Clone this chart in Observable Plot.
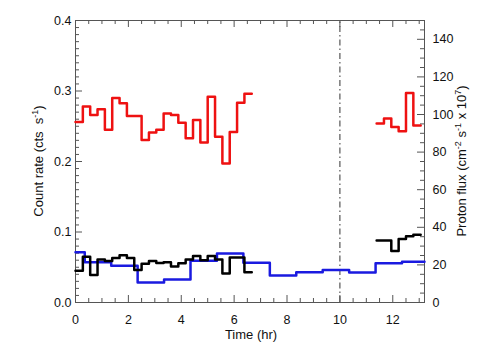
<!DOCTYPE html>
<html><head><meta charset="utf-8">
<script src="https://cdn.jsdelivr.net/npm/d3@7"></script>
<script src="https://cdn.jsdelivr.net/npm/@observablehq/plot@0.6"></script>
<style>
body{margin:0;background:#fff}
svg{font-family:"Liberation Sans",Arial,Helvetica,sans-serif}
</style>
</head><body><div id="chart"></div>
<script>
// ---- data ----
const binHours = 1000 / 3600;            // count-rate bins (1000 s)
const countRunStartBins = [0, 41];       // first bin index of each data run
const redRate = [
  [0.256, 0.278, 0.266, 0.274, 0.245, 0.290, 0.2825, 0.2645, 0.2645, 0.2305, 0.241, 0.245,
   0.268, 0.266, 0.255, 0.233, 0.259, 0.227, 0.292, 0.235, 0.197, 0.242, 0.2835, 0.296],
  [0.254, 0.261, 0.249, 0.243, 0.297, 0.251]
];
const blackRate = [
  [0.045, 0.065, 0.039, 0.061, 0.059, 0.063, 0.067, 0.063, 0.046, 0.055, 0.059, 0.056,
   0.057, 0.051, 0.0556, 0.061, 0.066, 0.060, 0.066, 0.061, 0.041, 0.064, 0.064, 0.043],
  [0.088, 0.088, 0.073, 0.090, 0.094, 0.096]
];
const protonStart = [0, 0.35, 1.35, 2.35, 3.35, 4.35, 5.35, 6.35, 7.35, 8.35, 9.35, 10.35, 11.35, 12.35];
const protonFlux  = [26.7, 21.4, 19.5, 10.7, 12.3, 22.2, 26.1, 21.1, 14.3, 16.1, 17.3, 15.9, 20.9, 21.7];
const protonEnd = 13.2;
const eventTime = [10];

const xMax = 13.2;
const leftMax = 0.4, rightMax = 150;
const xMajor = [0, 2, 4, 6, 8, 10, 12];
const xMinor = d3.range(0, 13.01, 0.5).filter(t => t % 2 !== 0);
const leftMajor = [0, 0.1, 0.2, 0.3, 0.4];
const leftMinor = d3.range(1, 40).filter(i => i % 10 !== 0).map(i => i / 100);
const rightMajor = [0, 20, 40, 60, 80, 100, 120, 140];
const rightMinor = d3.range(5, 150, 5).filter(v => v % 20 !== 0);

// ---- helpers ----
function stepPoints(startBins, runs) {
  const pts = [];
  runs.forEach((run, k) => {
    run.forEach((v, i) => pts.push({t: (startBins[k] + i) * binHours, v}));
    const end = (startBins[k] + run.length) * binHours;
    pts.push({t: end, v: run[run.length - 1]});
    pts.push({t: end, v: NaN});
  });
  return pts;
}
const toLeft = v => v * leftMax / rightMax;
const protonPts = protonStart.map((t, i) => ({t, v: toLeft(protonFlux[i])}));
protonPts.push({t: protonEnd, v: toLeft(protonFlux[protonFlux.length - 1])});

const W = 504, H = 360, mL = 75, mR = 80, mT = 20, mB = 58;
const pxX = xMax / (W - mL - mR), pxY = leftMax / (H - mT - mB);
const majLen = 7, minLen = 4;
const tickStroke = "#555";

const chart = Plot.plot({
  width: W, height: H,
  marginLeft: mL, marginRight: mR, marginTop: mT, marginBottom: mB,
  style: {fontFamily: "Liberation Sans, Arial, sans-serif", fontSize: "12.5px", background: "#fff"},
  x: {domain: [0, xMax], axis: null},
  y: {domain: [0, leftMax], axis: null},
  marks: [
    // bottom / top ticks
    Plot.ruleX(xMajor, {x: d => d, y1: 0, y2: majLen * pxY, stroke: tickStroke}),
    Plot.ruleX(xMinor, {x: d => d, y1: 0, y2: minLen * pxY, stroke: tickStroke}),
    Plot.ruleX(xMajor, {x: d => d, y1: leftMax, y2: leftMax - majLen * pxY, stroke: tickStroke}),
    Plot.ruleX(xMinor, {x: d => d, y1: leftMax, y2: leftMax - minLen * pxY, stroke: tickStroke}),
    // left ticks
    Plot.ruleY(leftMajor, {y: d => d, x1: 0, x2: majLen * pxX, stroke: tickStroke}),
    Plot.ruleY(leftMinor, {y: d => d, x1: 0, x2: minLen * pxX, stroke: tickStroke}),
    // right ticks
    Plot.ruleY(rightMajor, {y: d => toLeft(d), x1: xMax, x2: xMax - majLen * pxX, stroke: tickStroke}),
    Plot.ruleY(rightMinor, {y: d => toLeft(d), x1: xMax, x2: xMax - minLen * pxX, stroke: tickStroke}),
    Plot.frame({stroke: "#555"}),
    // tick labels
    Plot.text(xMajor, {x: d => d, y: 0, text: d => String(d), dy: 17.5, fill: "#111"}),
    Plot.text(leftMajor, {x: 0, y: d => d, text: d => d3.format(".1f")(d), dx: -4, textAnchor: "end", fill: "#111"}),
    Plot.text(rightMajor, {x: xMax, y: d => toLeft(d), text: d => String(d), dx: 8, textAnchor: "start", fill: "#111"}),
    // event line
    Plot.ruleX(eventTime, {x: d => d, y1: 0, y2: leftMax, stroke: "#555", strokeWidth: 1.2, strokeDasharray: "6,3,1.5,3"}),
    // data
    Plot.line(stepPoints(countRunStartBins, redRate), {x: "t", y: "v", curve: "step-after", stroke: "#ee1111", strokeWidth: 2.5}),
    Plot.line(protonPts, {x: "t", y: "v", curve: "step-after", stroke: "#1a1ae0", strokeWidth: 2.5}),
    Plot.line(stepPoints(countRunStartBins, blackRate), {x: "t", y: "v", curve: "step-after", stroke: "#000", strokeWidth: 2.5})
  ]
});
document.getElementById("chart").appendChild(chart);

// axis titles with superscripts
const svg = d3.select(chart);
function label(x, y, rot, parts) {
  const t = svg.append("text")
    .attr("transform", `translate(${x},${y})` + (rot ? ` rotate(${rot})` : ""))
    .attr("text-anchor", "middle").attr("fill", "#111")
    .style("font-size", "13px");
  let shifted = false;
  parts.forEach(p => {
    const sp = t.append("tspan").text(p.s);
    if (p.sup) { sp.attr("dy", -5).style("font-size", "9px"); shifted = true; }
    else if (shifted) { sp.attr("dy", 5); shifted = false; }
  });
}
label(251, 338.5, 0, [{s: "Time (hr)"}]);
label(43, 161, -90, [{s: "Count rate (cts\u00a0\u00a0s"}, {s: "-1", sup: true}, {s: ")"}]);
label(466, 161, -90, [{s: "Proton flux (cm"}, {s: "-2", sup: true}, {s: " s"}, {s: "-1", sup: true}, {s: " x 10"}, {s: "7", sup: true}, {s: ")"}]);
</script>
</body></html>
